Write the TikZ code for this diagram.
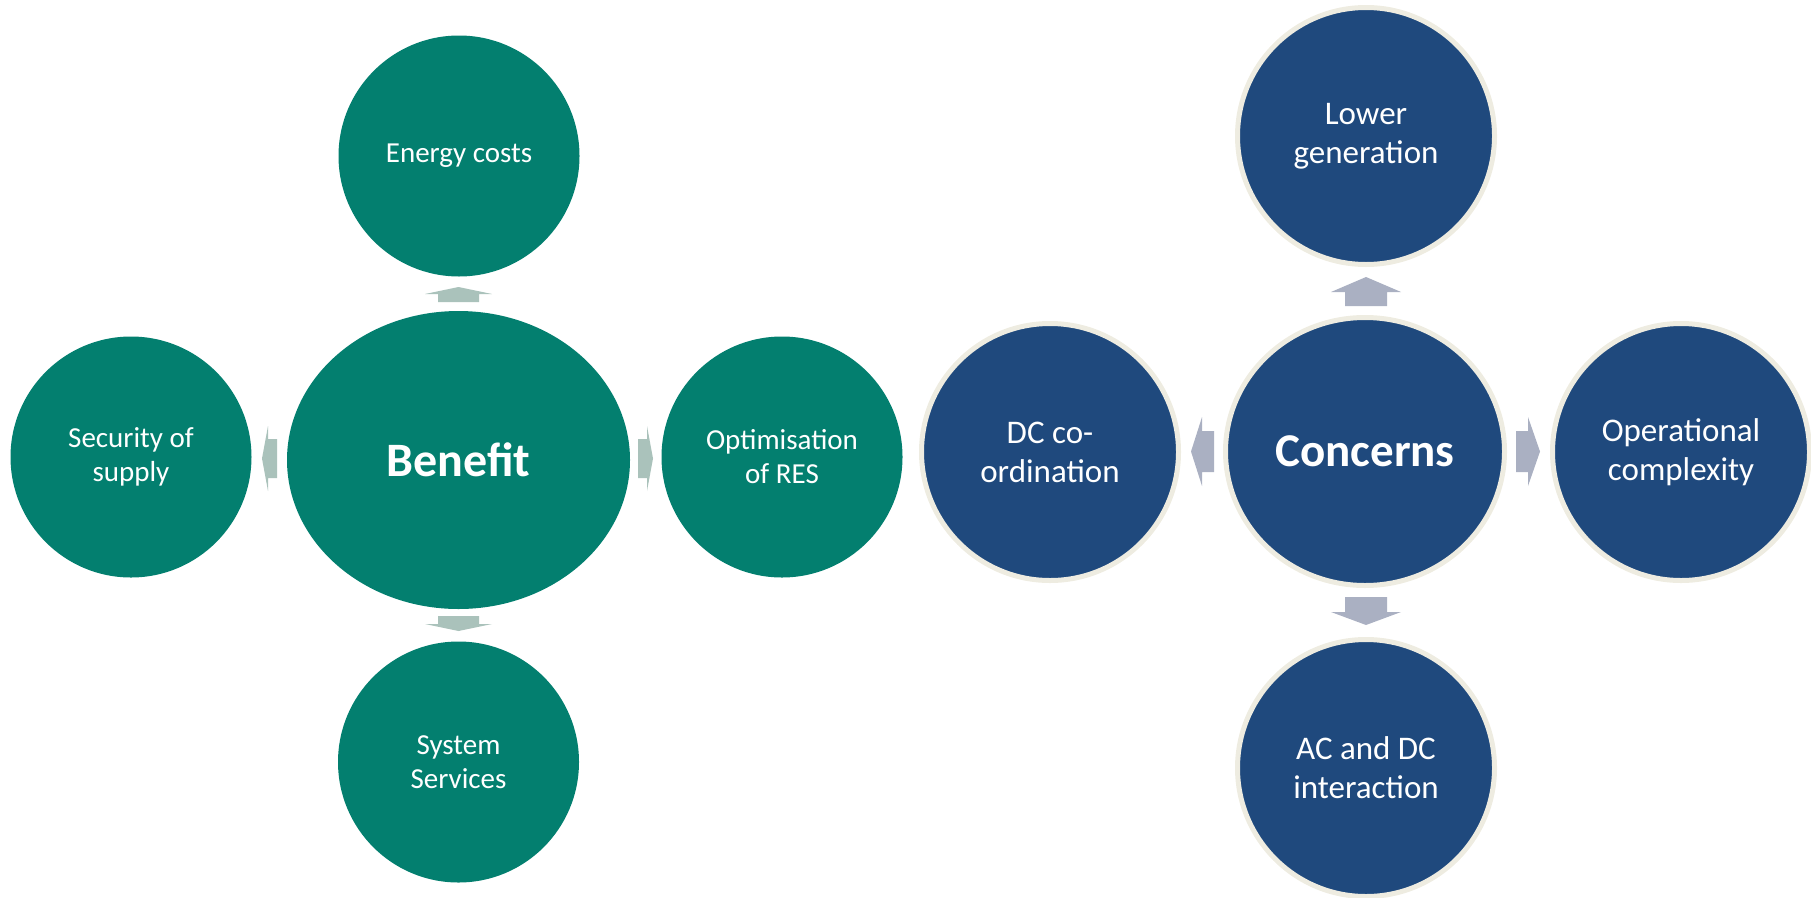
\documentclass[tikz,border=0pt]{standalone}
\usepackage{fontspec}
\setmainfont{Carlito}
\usetikzlibrary{shapes.geometric}
\definecolor{bgreen}{HTML}{037F6F}
\definecolor{bblue}{HTML}{1F497D}
\definecolor{bborder}{HTML}{EEECE1}
\definecolor{garrow}{HTML}{AAC2BB}
\definecolor{barrow}{HTML}{AAB0C2}
\begin{document}
\begin{tikzpicture}[x=1pt,y=-1pt,
  gcirc/.style={circle,fill=bgreen,inner sep=0pt,outer sep=0pt,minimum size=241pt,
    text=white,align=center,font=\fontsize{29}{34}\selectfont},
  gmain/.style={ellipse,fill=bgreen,inner sep=0pt,outer sep=0pt,minimum width=343pt,
    minimum height=298pt,text=white,font=\fontsize{48}{56}\selectfont\bfseries},
  bcirc/.style={circle,fill=bblue,draw=bborder,line width=5pt,inner sep=0pt,outer sep=0pt,
    minimum size=257pt,text=white,align=center,font=\fontsize{33}{39}\selectfont},
  bmain/.style={ellipse,fill=bblue,draw=bborder,line width=5pt,inner sep=0pt,outer sep=0pt,
    minimum width=279pt,minimum height=268pt,text=white,font=\fontsize{47}{56}\selectfont\bfseries},
  garr/.style={fill=garrow},
  barr/.style={fill=barrow}]
\useasboundingbox (0,0) rectangle (1811,897);
% green group
\node[gmain] (benefit) at (458.5,460) {Benefit};
\node[gcirc] (energy) at (459,156) {Energy costs};
\node[gcirc] (security) at (131,457) {Security of\\supply};
\node[gcirc] (optim) at (782,457) {Optimisation\\of RES};
\node[gcirc] (system) at (458.5,762) {System\\Services};
% green arrows
\fill[garr] (438,302) -- (438,294) -- (425,294) -- (458.5,287) -- (492,294) -- (479,294) -- (479,302) -- cycle;
\fill[garr] (438,616) -- (438,624) -- (425,624) -- (458.5,631) -- (492,624) -- (479,624) -- (479,616) -- cycle;
\fill[garr] (277,439) -- (268,439) -- (268,426) -- (262,458.5) -- (268,491) -- (268,478) -- (277,478) -- cycle;
\fill[garr] (638,439) -- (647,439) -- (647,426) -- (653,458.5) -- (647,491) -- (647,478) -- (638,478) -- cycle;
% blue group
\node[bmain] (concerns) at (1365,451.5) {Concerns};
\node[bcirc] (lower) at (1366,136) {Lower\\generation};
\node[bcirc] (dc) at (1050,452) {DC co-\\ordination};
\node[bcirc] (oper) at (1681,452) {Operational\\complexity};
\node[bcirc] (acdc) at (1366,768) {AC and DC\\interaction};
% blue arrows
\fill[barr] (1345,306) -- (1345,292) -- (1331,292) -- (1366,277) -- (1401,292) -- (1387,292) -- (1387,306) -- cycle;
\fill[barr] (1345,597) -- (1345,612) -- (1331,612) -- (1366,625) -- (1401,612) -- (1387,612) -- (1387,597) -- cycle;
\fill[barr] (1214,431) -- (1202,431) -- (1202,417) -- (1191,451.5) -- (1202,486) -- (1202,472) -- (1214,472) -- cycle;
\fill[barr] (1516,431) -- (1528,431) -- (1528,417) -- (1540,451.5) -- (1528,486) -- (1528,472) -- (1516,472) -- cycle;
\end{tikzpicture}
\end{document}
